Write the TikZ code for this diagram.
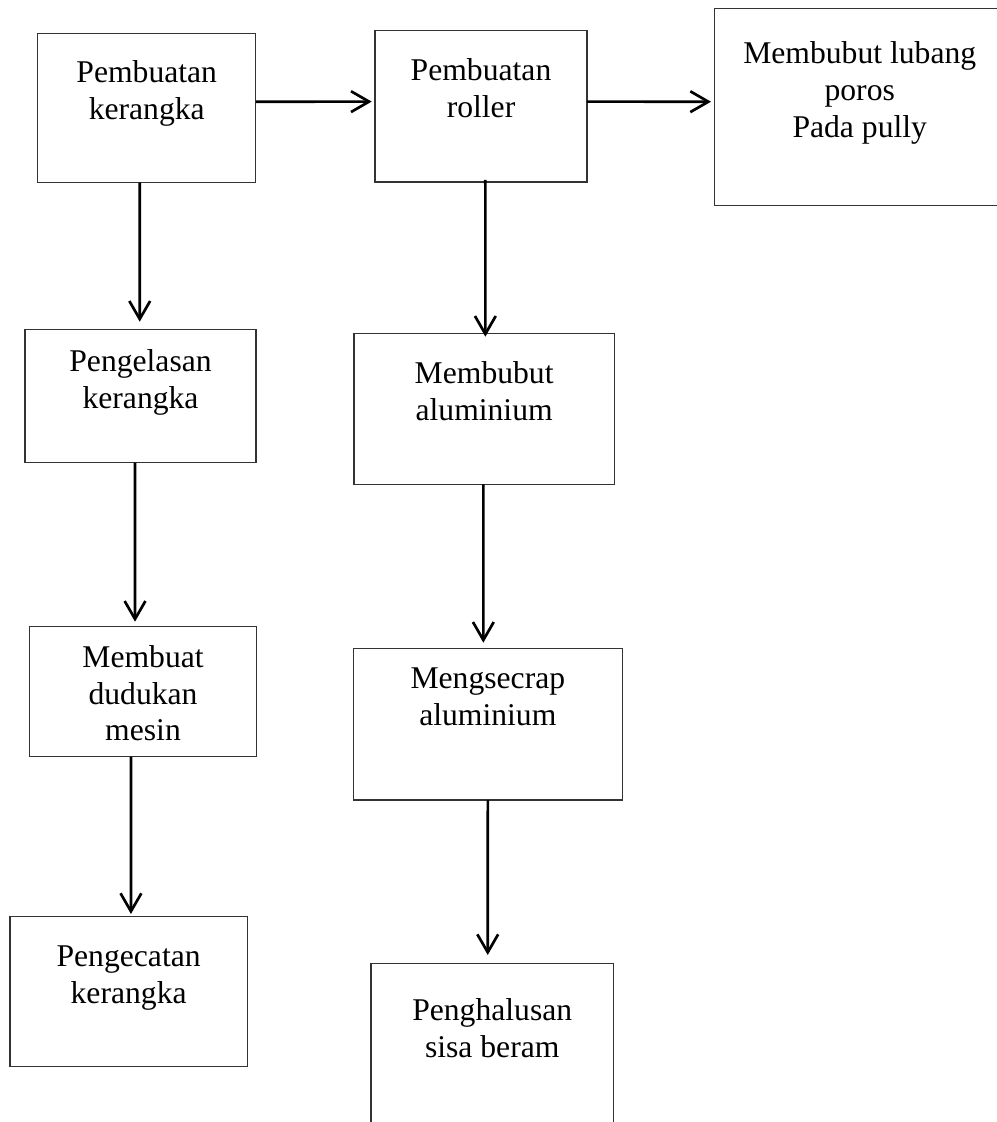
\documentclass[tikz,border=0pt]{standalone}
\usepackage{fontspec}
\setmainfont{Liberation Serif}
\usetikzlibrary{arrows.meta,calc}

\begin{document}
\begin{tikzpicture}[x=0.025cm,y=-0.025cm,
    box/.style={draw=black!80,line width=0.9pt,anchor=north west,inner sep=0pt,outer sep=0pt},
    txt/.style={anchor=north,align=center,inner sep=0pt,font=\fontsize{22.5pt}{26.1pt}\selectfont},
    arr/.style={-{Straight Barb[length=4.5mm,width=5.2mm]},line width=1.9pt}]
  \useasboundingbox (0,0) rectangle (997,1122);
  \clip (0,0) rectangle (997,1122);
  % top row
  \node[box,minimum width=5.45cm,minimum height=3.735cm,
    label={[txt,yshift=-0.67cm]north:Pembuatan\\kerangka}] (kerangka) at (37.7,33.3) {};
  \node[box,minimum width=5.30cm,minimum height=3.79cm,
    label={[txt,yshift=-0.70cm]north:Pembuatan\\roller}] (roller) at (375,30.3) {};
  \node[box,minimum width=7.8cm,minimum height=4.92cm,
    label={[txt,xshift=-0.265cm,yshift=-0.83cm]north:Membubut lubang\\poros\\Pada pully}] (lubang) at (714.3,8.3) {};
  % left column
  \node[box,minimum width=5.775cm,minimum height=3.335cm,
    label={[txt,yshift=-0.50cm]north:Pengelasan\\kerangka}] (las) at (25,329.3) {};
  \node[box,minimum width=5.685cm,minimum height=3.25cm,
    label={[txt,yshift=-0.46cm]north:Membuat\\dudukan\\mesin}] (dudukan) at (29.3,626.7) {};
  \node[box,minimum width=5.93cm,minimum height=3.735cm,
    label={[txt,yshift=-0.725cm]north:Pengecatan\\kerangka}] (cat) at (10,916.7) {};
  % middle column
  \node[box,minimum width=6.505cm,minimum height=3.775cm,
    label={[txt,yshift=-0.71cm]north:Membubut\\aluminium}] (bubut) at (354,333.3) {};
  \node[box,minimum width=6.725cm,minimum height=3.79cm,
    label={[txt,yshift=-0.475cm]north:Mengsecrap\\aluminium}] (secrap) at (353.3,648.3) {};
  \node[box,minimum width=6.06cm,minimum height=4.6cm,
    label={[txt,yshift=-0.875cm]north:Penghalusan\\sisa beram}] (halus) at (371,963.3) {};
  % arrows
  \draw[arr] ($(kerangka.east)+(0,-6.3)$) -- ($(roller.west)+(-3.3,-4.5)$);
  \draw[arr] ($(roller.east)+(0,-4.5)$) -- ($(lubang.west)+(-3.3,-5)$);
  \draw[arr] ($(kerangka.south)+(-7,0)$) -- ($(las.north)+(-0.8,-7.6)$);
  \draw[arr] ($(las.south)+(-5.5,0)$) -- ($(dudukan.north)+(-8,-5)$);
  \draw[arr] ($(dudukan.south)+(-12,0)$) -- ($(cat.north)+(2.3,-2.7)$);
  \draw[arr] ($(roller.south)+(4.3,-2)$) -- ($(bubut.north)+(1.2,3.4)$);
  \draw[arr] ($(bubut.south)+(-0.8,0)$) -- ($(secrap.north)+(-4.5,-5.6)$);
  \draw[arr] (secrap.south) -- ($(halus.north)+(-4.5,-8.3)$);
\end{tikzpicture}
\end{document}
